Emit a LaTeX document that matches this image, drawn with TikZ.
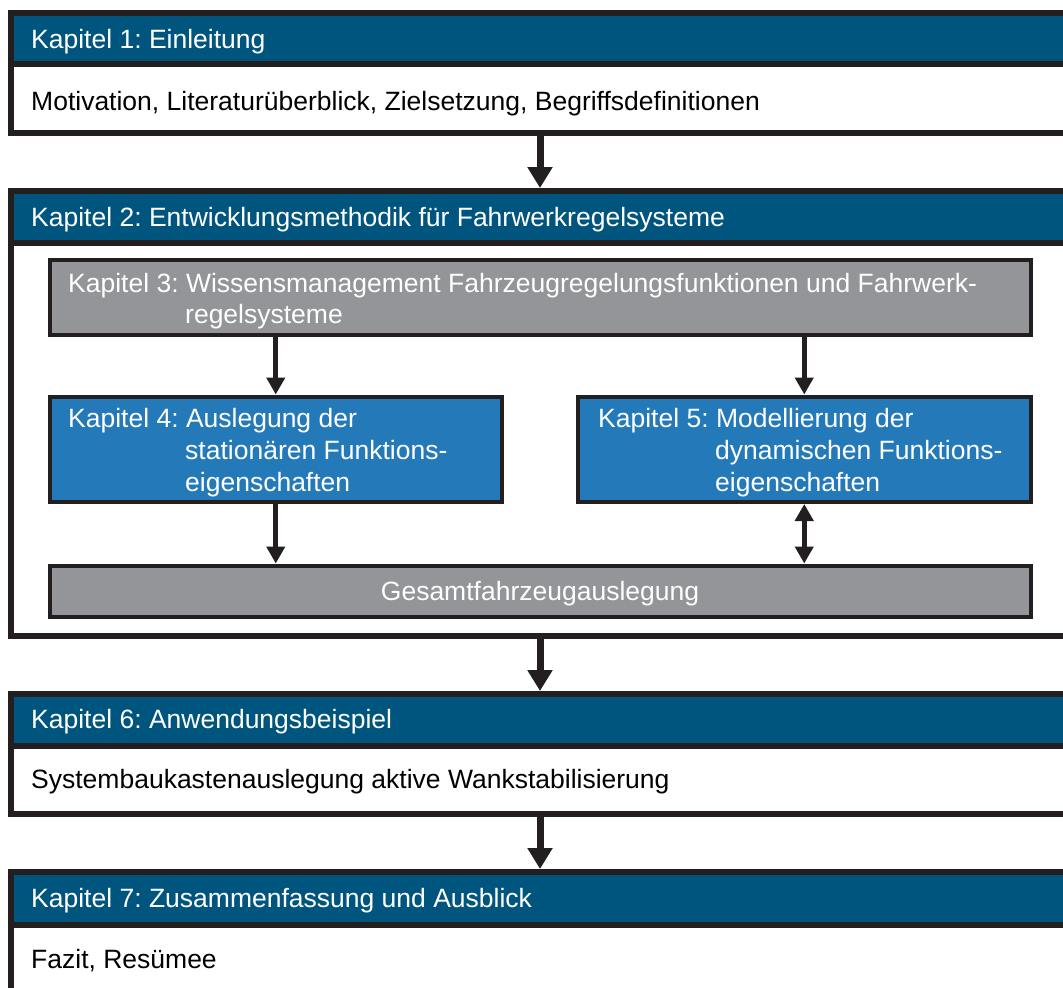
\documentclass[tikz,border=0pt]{standalone}
\usepackage{fontspec}
\setmainfont{Liberation Sans}
\usetikzlibrary{arrows.meta}
\definecolor{hdrblue}{HTML}{00557E}
\definecolor{boxblue}{HTML}{2479B9}
\definecolor{boxgray}{HTML}{939598}
\definecolor{edge}{HTML}{231F20}
\frenchspacing
\begin{document}
\begin{tikzpicture}[x=1pt,y=-1pt,
  outer/.style={rectangle,draw=edge,line width=6pt,inner sep=0pt,outer sep=0pt,anchor=north west,minimum width=1089pt},
  hdr/.style={outer,fill=hdrblue},
  body/.style={outer,fill=white},
  inner/.style={rectangle,draw=edge,line width=4pt,inner sep=0pt,outer sep=0pt,anchor=north west},
  graybox/.style={inner,fill=boxgray},
  bluebox/.style={inner,fill=boxblue},
  txt/.style={anchor=base west,inner sep=0pt,font=\fontsize{26.5pt}{32pt}\selectfont},
  wtxt/.style={txt,text=white},
  btxt/.style={txt,text=black},
  bigarrow/.style={draw=edge,line width=7pt,-{Triangle[width=24pt,length=21pt]},shorten >=3pt},
  smallarrow/.style={draw=edge,line width=5pt,-{Triangle[width=18pt,length=17pt]},shorten >=2pt},
  dblarrow/.style={draw=edge,line width=5pt,{Triangle[width=18pt,length=17pt]}-{Triangle[width=18pt,length=17pt]},shorten >=2pt,shorten <=2pt}]
\useasboundingbox (0,0) rectangle (1063,988);
\clip (0,0) rectangle (1063,988);
\fill[white] (0,0) rectangle (1063,988);
\coordinate (cx) at (540,0);

% Kapitel 1
\node[body,minimum height=69pt] (b1) at (11,64) {};
\node[hdr,minimum height=51pt] (h1) at (11,13) {};
\node[wtxt] (t1) at (31,48) {Kapitel 1: Einleitung};
\node[btxt] (s1) at (31,110) {Motivation, Literaturüberblick, Zielsetzung, Begriffsdefinitionen};

% Kapitel 2
\node[body,minimum height=393pt] (b2) at (11,243) {};
\node[hdr,minimum height=52pt] (h2) at (11,191) {};
\node[wtxt] (t2) at (31,226) {Kapitel 2: Entwicklungsmethodik für Fahrwerkregelsysteme};

% Kapitel 3
\node[graybox,minimum width=981pt,minimum height=75pt] (k3) at (49.5,260) {};
\node[wtxt] (k3a) at (68,292) {Kapitel 3: Wissensmanagement Fahrzeugregelungsfunktionen und Fahrwerk-};
\node[wtxt] (k3b) at (185,323) {regelsysteme};

% Kapitel 4
\node[bluebox,minimum width=452.5pt,minimum height=105.5pt] (k4) at (49.5,396.5) {};
\node[wtxt] (k4a) at (68,427) {Kapitel 4: Auslegung der};
\node[wtxt] (k4b) at (185,459) {stationären Funktions-};
\node[wtxt] (k4c) at (185,491) {eigenschaften};

% Kapitel 5
\node[bluebox,minimum width=452.5pt,minimum height=105.5pt] (k5) at (578,396.5) {};
\node[wtxt] (k5a) at (598,427) {Kapitel 5: Modellierung der};
\node[wtxt] (k5b) at (715,459) {dynamischen Funktions-};
\node[wtxt] (k5c) at (715,491) {eigenschaften};

% Gesamtfahrzeugauslegung
\node[graybox,minimum width=981pt,minimum height=51pt] (g) at (49.5,565.5) {};
\node[wtxt,anchor=base] (gt) at (540,600) {Gesamtfahrzeugauslegung};

% Kapitel 6
\node[body,minimum height=68.5pt] (b6) at (11,745.5) {};
\node[hdr,minimum height=51.5pt] (h6) at (11,694) {};
\node[wtxt] (t6) at (31,728) {Kapitel 6: Anwendungsbeispiel};
\node[btxt] (s6) at (31,788) {Systembaukastenauslegung aktive Wankstabilisierung};

% Kapitel 7
\node[body,minimum height=90pt] (b7) at (11,925) {};
\node[hdr,minimum height=53pt] (h7) at (11,872) {};
\node[wtxt] (t7) at (31,907) {Kapitel 7: Zusammenfassung und Ausblick};
\node[btxt] (s7) at (31,968) {Fazit, Resümee};

% main arrows
\draw[bigarrow] (b1.south -| cx) -- (h2.north -| cx);
\draw[bigarrow] (b2.south -| cx) -- (h6.north -| cx);
\draw[bigarrow] (b6.south -| cx) -- (h7.north -| cx);

% inner arrows
\draw[smallarrow] (k4.north |- k3.south) -- (k4.north);
\draw[smallarrow] (k5.north |- k3.south) -- (k5.north);
\draw[smallarrow] (k4.south) -- (k4.south |- g.north);
\draw[dblarrow] (k5.south) -- (k5.south |- g.north);
\end{tikzpicture}
\end{document}
